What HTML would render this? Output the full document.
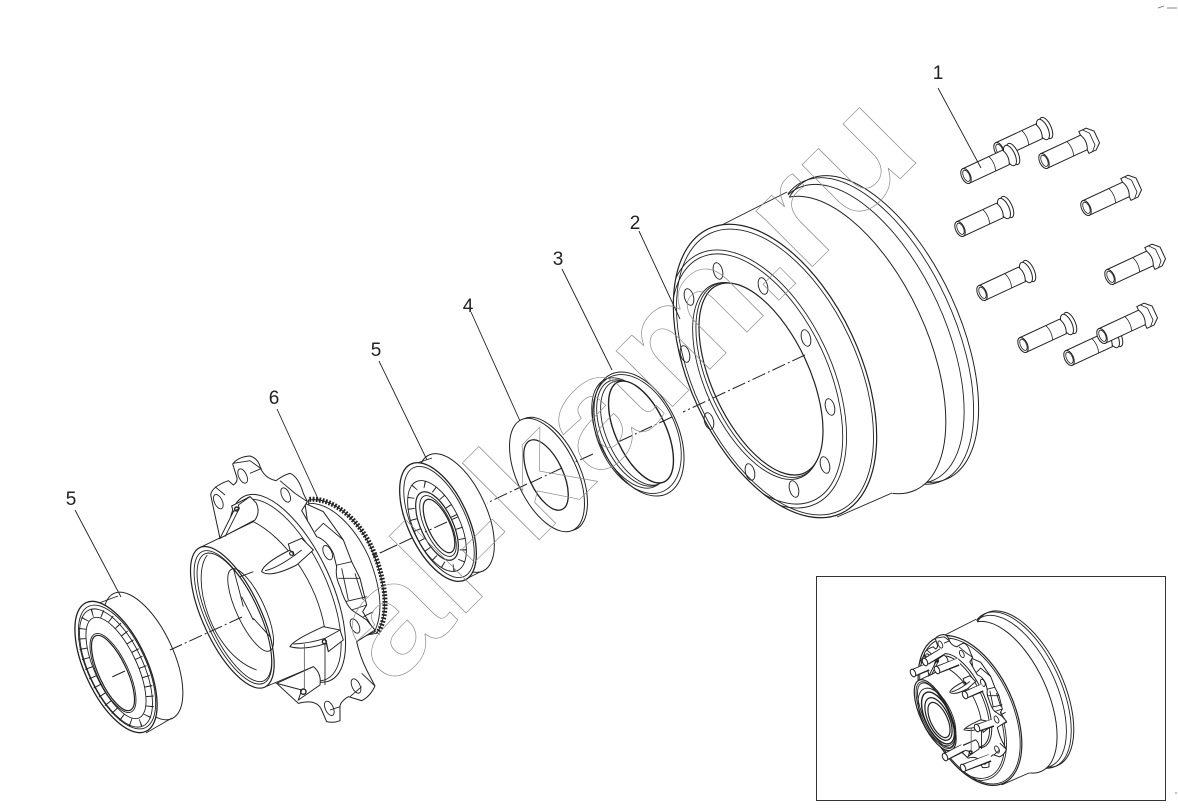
<!DOCTYPE html>
<html><head><meta charset="utf-8"><style>
html,body{margin:0;padding:0;background:#fff}
svg{display:block}
svg *{vector-effect:non-scaling-stroke}
.l{fill:#fff;stroke:#222;stroke-width:1}
.n{fill:none;stroke:#222;stroke-width:.9}
.t{fill:none;stroke:#222;stroke-width:.8}
.lab{font-family:"Liberation Sans",sans-serif;font-size:19px;fill:#222;text-anchor:middle}
</style></head><body>
<svg width="1178" height="808" viewBox="0 0 1178 808" xmlns="http://www.w3.org/2000/svg">
<defs>
<clipPath id="fc"><ellipse cx="775" cy="371" rx="85" ry="157" transform="rotate(-25 775 371)"/></clipPath>
<g id="drum">
 <ellipse class="l" cx="878" cy="329" rx="80" ry="165" transform="rotate(-25 878 329)"/>
 <ellipse class="n" cx="873" cy="331" rx="80" ry="165" transform="rotate(-25 873 331)"/>
 <ellipse class="n" cx="866" cy="334" rx="78" ry="161" transform="rotate(-25 866 334)"/>
 <ellipse class="l" cx="848" cy="345" rx="78" ry="160" transform="rotate(-25 848 345)"/>
 <path d="M716,228 L787,192 L900,490 L837,517 Z" fill="#fff"/>
 <path class="n" d="M716,228 L787,192 M837,517 L892,493"/>
 <ellipse class="l" cx="775" cy="371" rx="85" ry="157" transform="rotate(-25 775 371)" style="stroke-width:1.2"/>
 <ellipse class="n" cx="775" cy="372" rx="82" ry="153" transform="rotate(-25 775 372)"/>
 <g clip-path="url(#fc)">
 <ellipse class="n" cx="757" cy="379" rx="75" ry="138" transform="rotate(-25 757 379)"/>
 <ellipse class="n" cx="757" cy="379" rx="71" ry="134" transform="rotate(-25 757 379)"/>
 </g>
</g>
<g id="drumface">
 <ellipse class="n" cx="757" cy="381" rx="51" ry="106" transform="rotate(-25 757 381)"/>
 <ellipse class="n" cx="759" cy="380" rx="49.5" ry="105" transform="rotate(-25 759 380)"/>
 <ellipse class="l" cx="761" cy="379" rx="48.5" ry="103.5" transform="rotate(-25 761 379)" style="stroke-width:1.2"/>
 <ellipse class="n" cx="718" cy="271" rx="4.5" ry="8.5" transform="rotate(-15 718 271)"/>
 <ellipse class="n" cx="763" cy="286" rx="4.5" ry="8.5" transform="rotate(-15 763 286)"/>
 <ellipse class="n" cx="806" cy="338" rx="4.5" ry="8.5" transform="rotate(-15 806 338)"/>
 <ellipse class="n" cx="830" cy="407" rx="4.5" ry="8.5" transform="rotate(-15 830 407)"/>
 <ellipse class="n" cx="825" cy="465" rx="4.5" ry="8.5" transform="rotate(-15 825 465)"/>
 <ellipse class="n" cx="794" cy="489" rx="4.5" ry="8.5" transform="rotate(-15 794 489)"/>
 <ellipse class="n" cx="750" cy="472" rx="4.5" ry="8.5" transform="rotate(-15 750 472)"/>
 <ellipse class="n" cx="709" cy="421" rx="4.5" ry="8.5" transform="rotate(-15 709 421)"/>
 <ellipse class="n" cx="685" cy="354" rx="4.5" ry="8.5" transform="rotate(-15 685 354)"/>
 <ellipse class="n" cx="689" cy="297" rx="4.5" ry="8.5" transform="rotate(-15 689 297)"/>
</g>
<g id="bolt">
 <ellipse class="l" cx="52" cy="0" rx="5" ry="11.5"/>
 <ellipse class="l" cx="48.5" cy="0" rx="5" ry="11"/>
 <path class="l" d="M0,-8 L44,-8 Q48,0 44,8 L0,8 Z"/>
 <path class="t" d="M29,-8 Q32,0 29,8"/>
 <ellipse class="l" cx="0" cy="0" rx="4.4" ry="8"/>
 <ellipse class="t" cx="0.5" cy="0" rx="3" ry="6"/>
</g>
<g id="hex">
 <path class="l" d="M44,-12 L52,-12 L58,-6 L58,7 L52,12 L44,12 Z"/>
 <path class="t" d="M48,-12 L53,-6 L53,7 L48,12"/>
 <path class="l" d="M0,-8 L44,-8 Q48,0 44,8 L0,8 Z"/>
 <path class="t" d="M29,-8 Q32,0 29,8"/>
 <ellipse class="l" cx="0" cy="0" rx="4.4" ry="8"/>
 <ellipse class="t" cx="0.5" cy="0" rx="3" ry="6"/>
</g>
<g id="gear">
 <path class="l" d="M415,180 C490,170 570,240 610,340 C650,440 655,530 620,580 L560,590 L420,220 Z"/>
 <path d="M418,178 C490,172 572,240 613,340 C651,440 657,530 622,580" fill="none" stroke="#222" stroke-width="5" stroke-dasharray="1.8 1.5"/>
 <path class="n" d="M415,190 C480,186 552,256 596,350 C632,440 642,520 612,578"/>
</g>
<g id="hub">
 <path class="l" d="M405,190 L460,215 L520,300 L545,365 L570,415 L590,495 L578,515 L615,575 L560,600 L420,300 Z"/>
 <path class="n" d="M435,275 L460,250 L520,300 M495,380 L502,375 L545,365 M505,415 L570,415 M525,485 L590,470 M545,510 L590,495 M580,530 L610,515 M515,385 L535,480 M555,400 L580,480"/>
 <path class="l" d="M150,295 L122,165 Q125,140 175,122 L190,135 Q205,125 200,110 L188,72 Q205,50 240,48 Q265,55 272,85 Q285,115 318,122 Q340,105 360,100 Q385,110 400,160 L412,185 L395,212 L440,290 Q470,300 490,340 L500,380 Q495,410 510,440 Q525,490 545,510 L590,540 L615,570 L560,605 Q570,650 590,690 L615,738 Q600,770 575,782 L535,770 Q510,785 510,800 L510,842 Q490,850 470,845 L455,810 Q440,775 385,790 L320,730 Z"/>
 <path class="n" d="M190,70 L240,62 L272,85 M240,100 L275,85 M330,122 L375,160 L412,185 M135,140 L165,165 M575,700 L615,738 M540,770 L575,740 M480,810 L510,800"/>
 <ellipse class="n" cx="218" cy="108" rx="12" ry="23" transform="rotate(-25 218 108)"/>
 <ellipse class="n" cx="347" cy="165" rx="12" ry="23" transform="rotate(-25 347 165)"/>
 <ellipse class="n" cx="145" cy="185" rx="12" ry="23" transform="rotate(-25 145 185)"/>
 <ellipse class="n" cx="473" cy="338" rx="12" ry="23" transform="rotate(-25 473 338)"/>
 <ellipse class="n" cx="555" cy="558" rx="12" ry="23" transform="rotate(-25 555 558)"/>
 <ellipse class="n" cx="558" cy="738" rx="12" ry="23" transform="rotate(-25 558 738)"/>
 <ellipse class="n" cx="478" cy="805" rx="12" ry="23" transform="rotate(-25 478 805)"/>
 <ellipse class="l" cx="352" cy="445" rx="130" ry="305" transform="rotate(-25 352 445)"/>
 <ellipse class="n" cx="345" cy="450" rx="125" ry="295" transform="rotate(-25 345 450)"/>
 <path d="M89,323 L250,245 C340,290 440,420 465,570 L465,700 L285,741 Z" fill="#fff"/>
 <path class="n" d="M89,323 L250,245 C340,290 440,420 465,570 L465,735 M285,741 L430,680"/>
 <path class="l" d="M150,295 L190,215 L185,198 L240,170 L258,188 Q272,215 255,240 Z"/>
 <path class="n" d="M190,215 L208,205 L205,195 M165,290 L208,205 M240,170 L205,195"/>
 <path class="l" d="M275,395 Q280,370 360,330 L355,312 L395,295 L430,330 L380,375 Q300,415 275,395 Z"/>
 <path class="n" d="M285,392 Q320,385 375,345 L395,330 M360,330 L375,348"/>
 <path class="l" d="M360,620 Q370,600 460,560 L510,570 L520,600 L475,635 L470,610 Q400,632 360,620 Z"/>
 <path class="n" d="M370,612 Q420,610 465,595 L510,570 M465,595 L475,635"/>
 <path class="l" d="M320,730 L430,680 Q455,700 450,735 L385,780 L395,750 Z"/>
 <path d="M403,612 L403,745" stroke="#555" fill="none" stroke-width=".8"/>
 <circle cx="400" cy="755" r="8" fill="none" stroke="#222" stroke-width="1.4"/>
 <circle cx="200" cy="207" r="6" fill="none" stroke="#222" stroke-width="1.4"/>
 <circle cx="365" cy="340" r="6" fill="none" stroke="#222" stroke-width="1.2"/>
 <circle cx="463" cy="605" r="6" fill="none" stroke="#222" stroke-width="1.4"/>
 <ellipse class="l" cx="187" cy="532" rx="87" ry="231" transform="rotate(-25 187 532)" style="stroke-width:1.2"/>
 <ellipse class="n" cx="189" cy="532" rx="79" ry="218" transform="rotate(-25 189 532)"/>
 <ellipse class="n" cx="193" cy="532" rx="75" ry="210" transform="rotate(-25 193 532)"/>
</g>
<g id="hubin">
 <path class="n" d="M112,345 C60,410 120,640 260,690"/>
 <ellipse class="n" cx="242" cy="510" rx="42" ry="135" transform="rotate(-25 242 510)"/>
 <path class="n" d="M190,385 Q205,440 220,500 M210,410 L250,395 M215,470 L250,540 M300,590 L250,535"/>
</g>
</defs>

<!-- marks -->
<path d="M1158,8 L1164,6 M1167,8 L1177,8 M1176,792 L1176,794" stroke="#888" stroke-width="1" fill="none"/>

<!-- bolts -->
<use href="#bolt" transform="translate(999,150) rotate(-25)"/>
<use href="#bolt" transform="translate(966,176) rotate(-25)"/>
<use href="#hex" transform="translate(1044,161) rotate(-25)"/>
<use href="#hex" transform="translate(1086,208) rotate(-25)"/>
<use href="#bolt" transform="translate(960,229) rotate(-25)"/>
<use href="#hex" transform="translate(1110,277) rotate(-25)"/>
<use href="#bolt" transform="translate(982,293) rotate(-25)"/>
<use href="#bolt" transform="translate(1023,345) rotate(-25)"/>
<use href="#bolt" transform="translate(1069,358) rotate(-25)"/>
<use href="#hex" transform="translate(1102,336) rotate(-25)"/>

<!-- drum -->
<use href="#drum"/>
<use href="#drumface"/>

<!-- seal 3 -->
<ellipse class="l" cx="639" cy="434" rx="39" ry="66" transform="rotate(-25 639 434)"/>
<ellipse class="n" cx="637" cy="434" rx="39" ry="63" transform="rotate(-25 637 434)"/>
<ellipse class="n" cx="630" cy="433" rx="32" ry="59" transform="rotate(-25 630 433)"/>
<ellipse class="n" cx="633" cy="433" rx="30" ry="57" transform="rotate(-25 633 433)"/>
<ellipse class="n" cx="636" cy="433" rx="29" ry="56" transform="rotate(-25 636 433)"/>
<ellipse class="l" cx="641" cy="432" rx="25" ry="55" transform="rotate(-25 641 432)" style="stroke-width:1.4"/>

<!-- washer 4 -->
<ellipse class="l" cx="550" cy="474" rx="30" ry="61" transform="rotate(-25 550 474)"/>
<ellipse class="l" cx="547" cy="475" rx="30" ry="61" transform="rotate(-25 547 475)"/>
<ellipse class="l" cx="546" cy="475" rx="17" ry="38" transform="rotate(-25 546 475)" style="stroke-width:1.3"/>

<!-- bearing 5 middle -->
<ellipse class="l" cx="456" cy="513" rx="30" ry="64" transform="rotate(-25 456 513)"/>
<path d="M408,490 L423,464 L490,520 L462,580 Z" fill="#fff"/>
<path class="n" d="M417,463 L432,458 M462,581 L480,572"/>
<ellipse class="l" cx="438" cy="522" rx="30" ry="64" transform="rotate(-25 438 522)" style="stroke-width:1.3"/>
<ellipse class="n" cx="439" cy="522" rx="27" ry="60" transform="rotate(-25 439 522)"/>
<ellipse cx="437" cy="526" rx="20" ry="45" transform="rotate(-25 437 526)" fill="none" stroke="#222" stroke-width="7" stroke-dasharray="1 10"/>
<ellipse class="n" cx="437" cy="526" rx="23" ry="49" transform="rotate(-25 437 526)"/>
<ellipse class="n" cx="437" cy="526" rx="16" ry="37" transform="rotate(-25 437 526)" style="stroke-width:1.2"/>
<ellipse class="n" cx="438" cy="526" rx="13" ry="33" transform="rotate(-25 438 526)"/>
<ellipse class="n" cx="439" cy="526" rx="11" ry="29" transform="rotate(-25 439 526)" style="stroke-width:1.2"/>

<!-- gear + hub -->
<g transform="translate(170,440) scale(.33333)">
 <use href="#gear"/>
 <use href="#hub"/>
 <use href="#hubin"/>
</g>

<!-- bearing 5 left -->
<ellipse class="l" cx="143" cy="656" rx="30" ry="69" transform="rotate(-25 143 656)"/>
<path d="M88,618 L112,600 L176,680 L146,730 Z" fill="#fff"/>
<path class="n" d="M91,606 L118,596 M146,733 L172,718"/>
<ellipse class="l" cx="116" cy="667" rx="31" ry="71" transform="rotate(-25 116 667)" style="stroke-width:1.3"/>
<ellipse class="n" cx="117" cy="667" rx="29" ry="67" transform="rotate(-25 117 667)"/>
<ellipse cx="116" cy="668" rx="25" ry="60" transform="rotate(-25 116 668)" fill="none" stroke="#222" stroke-width="8" stroke-dasharray="1 9"/>
<ellipse class="n" cx="116" cy="668" rx="27" ry="64" transform="rotate(-25 116 668)"/>
<ellipse class="n" cx="116" cy="668" rx="21" ry="55" transform="rotate(-25 116 668)"/>
<ellipse class="n" cx="113" cy="673" rx="15.5" ry="43" transform="rotate(-25 113 673)"/>
<ellipse class="n" cx="113" cy="673" rx="14" ry="41" transform="rotate(-25 113 673)" style="stroke-width:1.2"/>

<!-- axis -->
<path d="M805,355 L683,412 M672,417 L618,442 M593,454 L573,463 M562,468 L530,483 M527,484 L487,503 M447,522 L425,532 M412,538 L380,553 M397,545 L373,556 M242,617 L170,650 M125,671 L112,677" fill="none" stroke="#222" stroke-width="1" stroke-dasharray="14 3 2 3"/>

<!-- leaders -->
<path d="M938,88 L981,168 M639,231 L680,319 M562,269 L612,370 M471,312 L520,421 M379,361 L427,460 M277,409 L320,503 M75,510 L121,597" stroke="#222" stroke-width=".9" fill="none"/>
<text class="lab" x="938" y="79">1</text>
<text class="lab" x="635" y="229">2</text>
<text class="lab" x="558" y="265">3</text>
<text class="lab" x="468" y="312">4</text>
<text class="lab" x="376" y="356">5</text>
<text class="lab" x="274" y="404">6</text>
<text class="lab" x="71" y="505">5</text>

<!-- watermark -->
<text transform="translate(391,688) rotate(-45) scale(1.13,1)" x="0" y="0" style="font-family:'Liberation Sans',sans-serif;font-weight:bold;font-size:150px;fill:none;stroke:#8a8a8a;stroke-width:.7">al-kam.ru</text>

<!-- inset -->
<rect x="816.5" y="576.5" width="349" height="224" fill="#fff" stroke="#333" stroke-width="1"/>
<g transform="translate(574.7,521.3) scale(.51)"><use href="#drum"/></g>
<g transform="translate(819,406.5) scale(.5)"><g transform="translate(170,440) scale(.33333)"><use href="#hub"/></g></g>
<ellipse class="n" cx="937" cy="717" rx="15" ry="31" transform="rotate(-25 937 717)"/>
<ellipse class="n" cx="938" cy="718" rx="12.6" ry="28" transform="rotate(-25 938 718)" style="stroke-width:1.4"/>
<ellipse class="n" cx="938.5" cy="719" rx="10.5" ry="23" transform="rotate(-25 938.5 719)" style="stroke-width:1.2"/>
<ellipse class="l" cx="939" cy="720" rx="8.4" ry="19" transform="rotate(-25 939 720)" style="stroke-width:1.2"/>
<g fill="none">
<path stroke="#222" stroke-width="8" d="M925,662 L942,652 M913,673 L928,667 M937,670 L958,662 M965,695 L982,688 M977,728 L993,723 M945,757 L963,748 M963,768 L990,758"/>
<path stroke="#fff" stroke-width="6" d="M925,662 L943,651 M913,673 L929,666 M937,670 L959,661 M965,695 L983,687 M977,728 L994,722 M945,757 L964,747 M963,768 L991,757"/>
</g>
<ellipse class="l" cx="925" cy="662" rx="2.4" ry="4" transform="rotate(-25 925 662)"/>
<ellipse class="l" cx="913" cy="673" rx="2.4" ry="4" transform="rotate(-25 913 673)"/>
<ellipse class="l" cx="937" cy="670" rx="2.4" ry="4" transform="rotate(-25 937 670)"/>
<ellipse class="l" cx="965" cy="695" rx="2.4" ry="4" transform="rotate(-25 965 695)"/>
<ellipse class="l" cx="977" cy="728" rx="2.4" ry="4" transform="rotate(-25 977 728)"/>
<ellipse class="l" cx="945" cy="757" rx="2.4" ry="4" transform="rotate(-25 945 757)"/>
<ellipse class="l" cx="963" cy="768" rx="2.4" ry="4" transform="rotate(-25 963 768)"/>
</svg>
</body></html>
